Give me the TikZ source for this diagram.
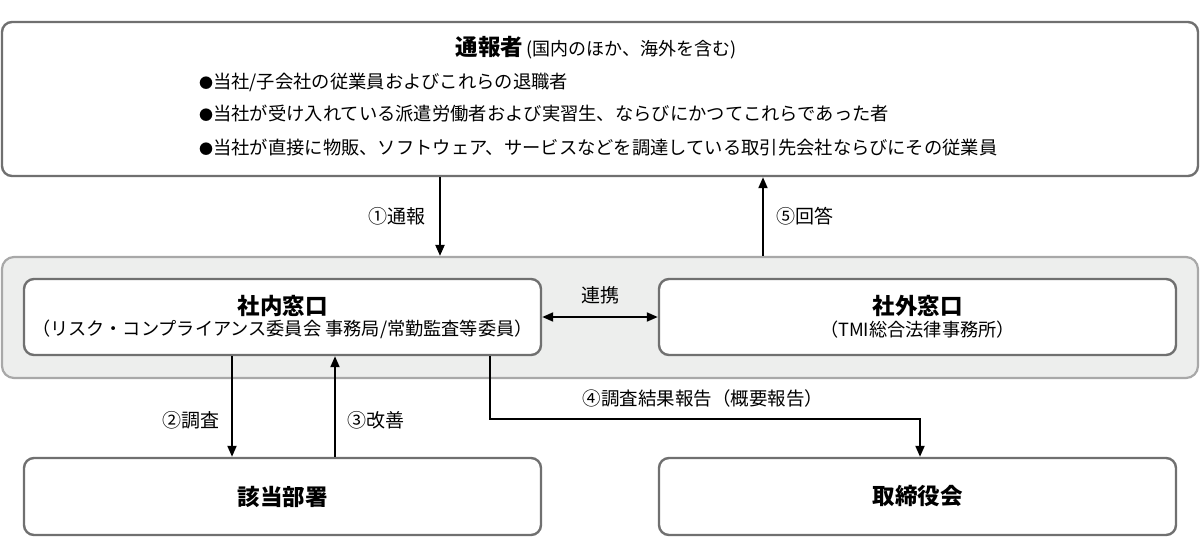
\documentclass[tikz,border=0pt]{standalone}
\usepackage{fontspec}
\setmainfont{Noto Sans CJK JP}
\usetikzlibrary{arrows.meta}
\definecolor{boxline}{HTML}{707070}
\definecolor{grpline}{HTML}{A8A8A8}
\definecolor{grpfill}{HTML}{EDEEED}
\newcommand{\bul}{{\fontsize{14}{16}\selectfont ●}}
\tikzset{
  box/.style={draw=boxline,line width=2.4pt,rounded corners=10pt,fill=white,inner sep=0pt,align=center},
  grpbox/.style={draw=grpline,line width=2.2pt,rounded corners=12pt,fill=grpfill,inner sep=0pt},
  arr/.style={line width=2pt,-{Triangle[length=11pt,width=9pt]}},
  darr/.style={line width=2pt,{Triangle[length=11pt,width=9pt]}-{Triangle[length=11pt,width=9pt]}},
  ttl/.style={font=\bfseries\fontsize{22.5}{26}\selectfont},
  txt/.style={font=\fontsize{18.3}{22}\selectfont,inner sep=0pt},
  lbl/.style={font=\fontsize{19}{22}\selectfont,inner sep=0pt}
}
\begin{document}
\begin{tikzpicture}[x=1pt,y=-1pt]
\useasboundingbox (0,0) rectangle (1200,554);
% boxes
\node[box,minimum width=1196pt,minimum height=154pt] (top) at (600,99) {};
\node[grpbox,minimum width=1196pt,minimum height=121pt] (grp) at (600,317.5) {};
\node[box,minimum width=517pt,minimum height=76pt] (inner) at (282.5,317)
  {{\bfseries\fontsize{22.5}{26}\selectfont 社内窓口}\\[3pt]{\fontsize{18.2}{22}\selectfont （リスク・コンプライアンス委員会 事務局/常勤監査等委員）}};
\node[box,minimum width=517pt,minimum height=76pt] (outer) at (917.5,317)
  {{\bfseries\fontsize{22.5}{26}\selectfont 社外窓口}\\[3pt]{\fontsize{18.2}{22}\selectfont （TMI総合法律事務所）}};
\node[box,minimum width=517pt,minimum height=77pt,ttl] (gai) at (282.5,496.5) {該当部署};
\node[box,minimum width=517pt,minimum height=77pt,ttl] (tori) at (917.5,496.5) {取締役会};
% top texts
\node[inner sep=0pt] (title) at (596,48) {{\bfseries\fontsize{22.5}{26}\selectfont 通報者}\hspace{3pt}{\fontsize{18}{22}\selectfont (国内のほか、海外を含む)}};
\node[txt,anchor=west] (b1) at (199,82) {\bul 当社/子会社の従業員およびこれらの退職者};
\node[txt,anchor=west] (b2) at (199,114) {\bul 当社が受け入れている派遣労働者および実習生、ならびにかつてこれらであった者};
\node[txt,anchor=west] (b3) at (199,148) {\bul 当社が直接に物販、ソフトウェア、サービスなどを調達している取引先会社ならびにその従業員};
% coordinates
\coordinate (x1) at (440,0);
\coordinate (x5) at (763,0);
\coordinate (x2) at (232,0);
\coordinate (x3) at (335,0);
\coordinate (x4) at (490,0);
\coordinate (x4b) at (920,0);
\coordinate (y4) at (0,419);
% arrows
\draw[arr] (top.south -| x1) -- (grp.north -| x1);
\draw[arr] (grp.north -| x5) -- (top.south -| x5);
\draw[darr] (inner.east) -- (outer.west);
\draw[arr] (inner.south -| x2) -- (gai.north -| x2);
\draw[arr] (gai.north -| x3) -- (inner.south -| x3);
\draw[arr] (inner.south -| x4) -- (x4 |- y4) -- (x4b |- y4) -- (tori.north -| x4b);
% labels
\node[lbl] (l1) at (397,216) {①通報};
\node[lbl] (l5) at (805,216) {⑤回答};
\node[lbl] (lr) at (600,295) {連携};
\node[lbl] (l2) at (191,420) {②調査};
\node[lbl] (l3) at (376,420) {③改善};
\node[lbl,font=\fontsize{18.5}{22}\selectfont] (l4) at (703,398) {④調査結果報告（概要報告）};
\end{tikzpicture}
\end{document}
